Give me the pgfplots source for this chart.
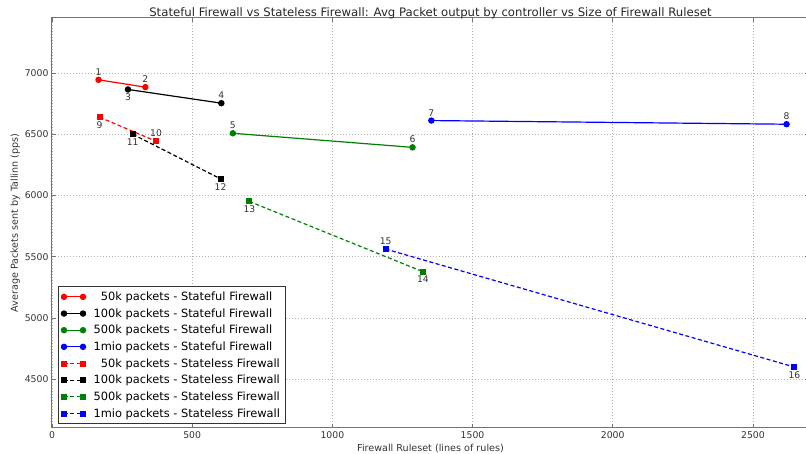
\documentclass[border=0pt]{standalone}
\usepackage{fontspec}
\setmainfont{DejaVu Sans}
\usepackage{pgfplots}
\pgfplotsset{compat=1.18}
\usepackage{pgfplotstable}

\definecolor{mplgreen}{rgb}{0,0.5,0}
\definecolor{framegray}{gray}{0.45}
\definecolor{labelgray}{gray}{0.2}

% stateful firewall
\pgfplotstableread{
x    y    lab
166  6945 1
333  6885 2
}\sfA
\pgfplotstableread{
x    y    lab
271  6866 3
604  6754 4
}\sfB
\pgfplotstableread{
x    y    lab
645  6508 5
1286 6393 6
}\sfC
\pgfplotstableread{
x    y    lab
1353 6612 7
2620 6582 8
}\sfD
% stateless firewall
\pgfplotstableread{
x    y    lab
170  6639 9
371  6443 10
}\slA
\pgfplotstableread{
x    y    lab
288  6500 11
601  6136 12
}\slB
\pgfplotstableread{
x    y    lab
704  5951 13
1323 5377 14
}\slC
\pgfplotstableread{
x    y    lab
1190 5562 15
2648 4598 16
}\slD

\begin{document}
\begin{tikzpicture}
\begin{axis}[
    scale only axis,
    width=757pt, height=410pt,
    xmin=0, xmax=2700, ymin=4100, ymax=7450,
    xtick={0,500,...,2500}, ytick={4500,5000,...,7000},
    grid=major,
    grid style={dash pattern=on 1pt off 2pt, gray!60, line width=0.5pt},
    axis line style={framegray, line width=1pt},
    tick style={framegray, line width=0.6pt},
    tick align=inside, major tick length=4pt,
    ticklabel style={font=\fontsize{9.3}{11}\selectfont, text=labelgray},
    /pgf/number format/assume math mode=true,
    /pgf/number format/1000 sep={},
    title={Stateful Firewall vs Stateless Firewall: Avg Packet output by controller vs Size of Firewall Ruleset},
    title style={font=\fontsize{11.7}{13}\selectfont, text=black!85, at={(0.5,1)}, anchor=base, yshift=-5pt},
    xlabel={Firewall Ruleset (lines of rules)},
    ylabel={Average Packets sent by Tallinn (pps)},
    label style={font=\fontsize{9.6}{11}\selectfont, text=labelgray},
    xlabel style={yshift=1pt},
    ylabel style={yshift=-2pt},
    legend style={at={(axis description cs:0,0)}, anchor=south west,
        xshift=6pt, yshift=4pt, draw=black!80, line width=0.8pt,
        font=\fontsize{11.4}{13}\selectfont, row sep=2.5pt,
        inner xsep=3pt, inner ysep=3pt,
        /tikz/every odd column/.append style={column sep=6pt}},
    legend cell align=left,
    legend image code/.code={
        \draw[#1] plot coordinates {(0pt,0pt) (19pt,0pt)};},
    nodes near coords,
    point meta=explicit symbolic,
    every node near coord/.append style={font=\fontsize{9.2}{11}\selectfont,
        text=labelgray, inner sep=3.8pt},
    every axis plot/.append style={line width=1.2pt},
    sf/.style={solid, mark=*, mark size=2.6pt, mark options={solid}},
    sl/.style={dash pattern=on 4pt off 2.5pt, mark=square*, mark size=2.4pt, mark options={solid}},
    below/.style={every node near coord/.append style={anchor=north}},
]
\addplot[red, sf]       table[x=x, y=y, meta=lab] {\sfA};
\addlegendentry{\phantom{1}50k packets - Stateful Firewall}
\addplot[black, sf, coordinate style/.condition={x<400}{anchor=north}]
                        table[x=x, y=y, meta=lab] {\sfB};
\addlegendentry{100k packets - Stateful Firewall}
\addplot[mplgreen, sf]  table[x=x, y=y, meta=lab] {\sfC};
\addlegendentry{500k packets - Stateful Firewall}
\addplot[blue, sf]      table[x=x, y=y, meta=lab] {\sfD};
\addlegendentry{1mio packets - Stateful Firewall}
\addplot[red, sl, coordinate style/.condition={x<300}{anchor=north}]
                        table[x=x, y=y, meta=lab] {\slA};
\addlegendentry{\phantom{1}50k packets - Stateless Firewall}
\addplot[black, sl, below] table[x=x, y=y, meta=lab] {\slB};
\addlegendentry{100k packets - Stateless Firewall}
\addplot[mplgreen, sl, below] table[x=x, y=y, meta=lab] {\slC};
\addlegendentry{500k packets - Stateless Firewall}
\addplot[blue, sl, coordinate style/.condition={x>2000}{anchor=north}]
                        table[x=x, y=y, meta=lab] {\slD};
\addlegendentry{1mio packets - Stateless Firewall}
\end{axis}
\pgfresetboundingbox
\path ([xshift=-52pt,yshift=-26pt]current axis.south west)
    rectangle ([xshift=-3pt,yshift=18pt]current axis.north east);
\end{tikzpicture}
\end{document}
